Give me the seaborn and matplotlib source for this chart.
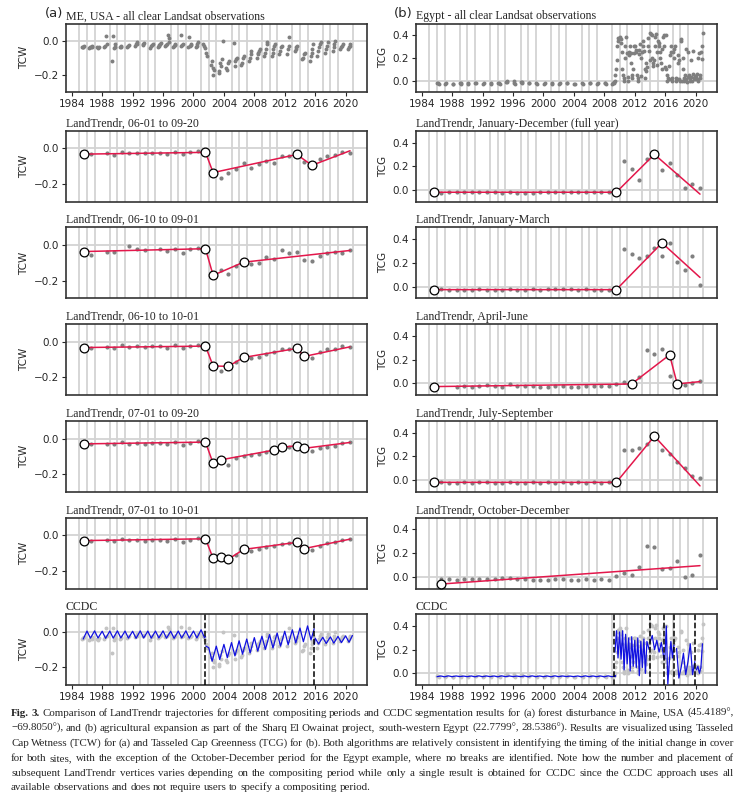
import numpy as np
import pandas as pd
import matplotlib
matplotlib.use('Agg')
import matplotlib.pyplot as plt
from matplotlib.ticker import FixedLocator
import seaborn as sns

sns.set_style('ticks')
plt.rcParams['font.family'] = ['DejaVu Sans']

nan = np.nan
years = np.arange(1985, 2021)          # annual composites
grid_years = np.arange(1985, 2022)     # vertical year lines
tick_years = np.arange(1984, 2021, 4)

# ---------------- all clear observations ----------------
# Maine TCW, one list per year 1985..2020
me_obs = [
    [-0.04, -0.035, -0.035, -0.03],
    [-0.045, -0.04, -0.035, -0.03, -0.04],
    [-0.04, -0.045, -0.035],
    [-0.04, -0.03, 0.025, -0.02],
    [-0.12, 0.025, -0.045, -0.035, -0.02],
    [-0.04, -0.035, -0.03],
    [-0.035, -0.03, -0.025],
    [-0.03, -0.02, -0.01, -0.02],
    [-0.025, -0.02, -0.015],
    [-0.045, -0.03, -0.025, -0.02],
    [-0.035, -0.03, -0.025, -0.02, -0.015],
    [-0.03, -0.025, -0.02, 0.03, 0.015, -0.01],
    [-0.035, -0.03, -0.025, -0.02],
    [-0.03, 0.03, -0.025, -0.02],
    [-0.035, 0.02, -0.03, -0.025, -0.02],
    [-0.04, -0.03, -0.02, -0.01],
    [-0.02, -0.03, -0.045, -0.07, -0.09],
    [-0.14, -0.12, -0.16, -0.2, -0.17],
    [-0.18, -0.19, -0.13, -0.15, -0.11, 0.0],
    [-0.16, -0.17, -0.13, -0.12],
    [-0.015, -0.15, -0.12, -0.11, -0.1],
    [-0.14, -0.13, -0.1, -0.09],
    [-0.12, -0.1, -0.08, -0.06],
    [-0.1, -0.08, -0.07, -0.06, -0.05],
    [-0.09, -0.07, -0.05, -0.02, -0.01],
    [-0.09, -0.07, -0.05, -0.03, -0.02],
    [-0.08, -0.06, -0.04, -0.03],
    [-0.08, -0.05, 0.02, -0.03],
    [-0.06, -0.05, -0.04, -0.03],
    [-0.11, -0.1, -0.08, -0.07],
    [-0.12, -0.09, -0.07, -0.05, -0.02],
    [-0.09, -0.06, -0.04, -0.02, -0.01],
    [-0.07, -0.05, -0.03, -0.01],
    [-0.06, -0.04, -0.02, 0.0],
    [-0.05, -0.04, -0.03, -0.02],
    [-0.05, -0.04, -0.03, -0.02],
]
me_frac = [0.3, 0.42, 0.52, 0.62, 0.72, 0.82]

# Egypt TCG, one list per year 1985..2020
eg_obs = [
    [],
    [-0.02, -0.025, -0.03],
    [-0.03, -0.025],
    [-0.03, -0.028],
    [-0.025, -0.02, -0.03],
    [-0.025, -0.03],
    [-0.02, -0.025],
    [-0.03, -0.025],
    [-0.028, -0.022],
    [-0.025, -0.02, -0.03],
    [-0.01, -0.005, -0.015],
    [-0.005, -0.02, -0.03],
    [-0.01, -0.015, -0.025],
    [-0.02, -0.025],
    [-0.025, -0.03],
    [-0.03, -0.025],
    [-0.025, -0.03],
    [-0.03, -0.022],
    [-0.025, -0.02],
    [-0.03, -0.028],
    [-0.025, -0.03],
    [-0.02, -0.025],
    [-0.03, -0.022],
    [-0.025, -0.02, -0.03],
    [-0.03, -0.02, -0.025, -0.01, 0.0, 0.05, 0.1, 0.18, 0.3, 0.35, 0.37],
    [0.38, 0.36, 0.33, 0.25, 0.1, 0.05, 0.02, 0.0, 0.2, 0.3, 0.38, 0.24],
    [0.0, 0.03, 0.22, 0.25, 0.3, 0.24, 0.15, 0.05, 0.02, 0.1, 0.24, 0.3],
    [0.3, 0.27, 0.25, 0.05, 0.0, 0.02, 0.23, 0.27, 0.32, 0.2, 0.04, 0.25],
    [0.35, 0.3, 0.26, 0.1, 0.02, 0.08, 0.15, 0.12, 0.3, 0.37, 0.26, 0.18],
    [0.42, 0.41, 0.4, 0.2, 0.15, 0.13, 0.18, 0.3, 0.38, 0.41, 0.25, 0.14],
    [0.35, 0.3, 0.33, 0.25, 0.2, 0.15, 0.1, 0.28, 0.38, 0.4, 0.3, 0.12],
    [0.4, 0.1, 0.05, 0.0, 0.02, 0.01, 0.13, 0.22, 0.3, 0.25, 0.02, 0.0],
    [0.25, 0.2, 0.28, 0.3, 0.02, 0.0, 0.01, 0.15, 0.22, 0.18, 0.01, 0.0],
    [0.36, 0.35, 0.0, 0.1, 0.2, 0.02, 0.0, 0.05, 0.28, 0.01, -0.01, 0.03],
    [0.25, 0.05, 0.02, 0.0, 0.18, 0.03, 0.0, 0.26, 0.06, 0.02, 0.01, 0.04],
    [0.03, 0.06, 0.01, 0.0, 0.2, 0.24, 0.02, 0.05, 0.25, 0.19, 0.3, 0.42],
]
eg_frac = [0.06, 0.14, 0.22, 0.3, 0.38, 0.46, 0.54, 0.62, 0.7, 0.78, 0.86, 0.94]

# ---------------- LandTrendr (annual composites 1985..2020) ----------------
lt_off = 0.58   # composite date inside the year

me_titles = ['LandTrendr, 06-01 to 09-20', 'LandTrendr, 06-10 to 09-01',
             'LandTrendr, 06-10 to 10-01', 'LandTrendr, 07-01 to 09-20',
             'LandTrendr, 07-01 to 10-01']
me_lt_obs = [
    [-0.032, -0.030, nan, -0.026, -0.037, -0.020, -0.028, -0.024, -0.028, -0.024, -0.024, -0.030,
     -0.019, -0.034, -0.022, -0.015, -0.022, -0.136, -0.165, -0.136, -0.116, -0.084, -0.108, -0.086,
     -0.069, -0.080, -0.041, -0.045, -0.034, -0.075, -0.095, -0.060, -0.041, -0.039, -0.020, -0.028],
    [-0.036, -0.056, nan, -0.040, -0.037, nan, -0.002, -0.020, -0.028, nan, -0.022, -0.031,
     -0.019, -0.044, -0.022, -0.015, -0.020, -0.170, -0.141, -0.163, -0.115, -0.096, -0.108, -0.100,
     -0.065, -0.080, -0.028, -0.046, -0.039, -0.083, -0.089, -0.059, -0.044, -0.039, -0.046, -0.030],
    [-0.032, -0.032, nan, -0.028, -0.035, -0.020, -0.028, -0.024, -0.030, -0.026, -0.024, -0.032,
     -0.020, -0.037, -0.024, -0.015, -0.024, -0.136, -0.163, -0.138, -0.114, -0.088, -0.093, -0.084,
     -0.071, -0.056, -0.041, -0.041, -0.037, -0.082, -0.090, -0.058, -0.043, -0.041, -0.022, -0.028],
    [-0.030, -0.032, nan, -0.028, -0.033, -0.022, -0.028, -0.024, -0.030, -0.026, -0.024, -0.030,
     -0.020, -0.035, -0.024, -0.016, -0.020, -0.140, -0.120, -0.150, -0.110, -0.100, -0.095, -0.085,
     -0.075, -0.065, -0.050, -0.045, -0.040, -0.060, -0.070, -0.055, -0.045, -0.040, -0.025, -0.022],
    [-0.030, -0.032, nan, -0.028, -0.035, -0.020, -0.028, -0.024, -0.030, -0.026, -0.024, -0.032,
     -0.020, -0.037, -0.024, -0.015, -0.020, -0.130, -0.125, -0.135, -0.110, -0.080, -0.090, -0.075,
     -0.065, -0.060, -0.050, -0.045, -0.040, -0.075, -0.085, -0.060, -0.045, -0.040, -0.025, -0.022],
]
me_lt_vyr = [
    [1985, 2001, 2002, 2013, 2015, 2020],
    [1985, 2001, 2002, 2006, 2020],
    [1985, 2001, 2002, 2004, 2006, 2013, 2014, 2020],
    [1985, 2001, 2002, 2003, 2010, 2011, 2013, 2014, 2020],
    [1985, 2001, 2002, 2003, 2004, 2006, 2013, 2014, 2020],
]
me_lt_vval = [
    [-0.032, -0.022, -0.136, -0.034, -0.095, -0.013],
    [-0.036, -0.020, -0.170, -0.096, -0.030],
    [-0.032, -0.024, -0.136, -0.138, -0.088, -0.037, -0.082, -0.028],
    [-0.030, -0.020, -0.140, -0.120, -0.065, -0.050, -0.040, -0.055, -0.022],
    [-0.030, -0.020, -0.130, -0.125, -0.135, -0.080, -0.040, -0.075, -0.022],
]

eg_titles = ['LandTrendr, January-December (full year)', 'LandTrendr, January-March',
             'LandTrendr, April-June', 'LandTrendr, July-September',
             'LandTrendr, October-December']
eg_lt_obs = [
    [-0.020, -0.025, -0.022, -0.022, -0.020, -0.022, -0.020, -0.022, -0.015, -0.025, -0.022, -0.025,
     -0.028, -0.030, -0.020, -0.018, -0.022, -0.022, -0.020, -0.022, -0.020, -0.020, -0.020, -0.020,
     -0.020, 0.243, 0.180, 0.084, 0.263, 0.300, 0.168, 0.224, 0.129, 0.017, 0.053, 0.017],
    [-0.026, -0.020, -0.025, -0.030, -0.030, -0.025, -0.022, -0.032, -0.025, -0.028, -0.018, -0.028,
     -0.025, -0.020, -0.025, -0.018, -0.022, -0.020, -0.020, -0.025, -0.022, -0.025, -0.025, -0.025,
     -0.026, 0.315, 0.275, 0.238, 0.255, 0.330, 0.258, 0.369, 0.210, 0.136, 0.260, 0.014],
    [-0.028, nan, nan, -0.034, -0.020, -0.028, -0.025, -0.018, -0.025, -0.028, -0.003, -0.024,
     -0.025, -0.025, -0.030, -0.028, -0.025, -0.022, -0.028, -0.030, -0.025, -0.022, -0.020, -0.022,
     -0.006, 0.014, -0.006, 0.056, 0.280, 0.245, 0.290, 0.065, -0.006, -0.014, 0.000, 0.023],
    [-0.020, -0.020, -0.022, -0.025, -0.020, -0.022, -0.020, -0.018, -0.022, -0.025, -0.020, -0.022,
     -0.025, -0.020, -0.022, -0.020, -0.025, -0.020, -0.022, -0.020, -0.022, -0.020, -0.022, -0.020,
     -0.020, 0.250, 0.255, 0.270, 0.300, 0.370, 0.250, 0.220, 0.150, 0.100, 0.030, 0.020],
    [nan, -0.023, -0.020, -0.025, -0.023, -0.023, -0.023, -0.023, -0.017, -0.012, -0.014, -0.017,
     -0.020, -0.025, -0.025, -0.025, -0.023, -0.023, -0.028, -0.025, -0.023, -0.031, -0.020, -0.031,
     0.006, 0.034, 0.017, 0.085, 0.262, 0.250, 0.068, 0.073, 0.130, -0.003, 0.014, 0.186],
]
eg_lt_vyr = [
    [1985, 2009, 2014, 2020],
    [1985, 2009, 2015, 2020],
    [1985, 2011, 2016, 2017, 2020],
    [1985, 2009, 2014, 2020],
    [1986, 2020],
]
eg_lt_vval = [
    [-0.020, -0.020, 0.300, -0.036],
    [-0.026, -0.026, 0.369, 0.077],
    [-0.028, -0.006, 0.240, -0.006, 0.014],
    [-0.020, -0.020, 0.370, -0.050],
    [-0.062, 0.093],
]

# ---------------- CCDC ----------------
# Maine: fitted harmonic value at the summer peak / winter trough of each year
me_cc_breaks = [2001.58, 2015.87]
me_cc_seg = [
    # start, end, years, peak values, trough values
    ((1985.5, -0.040), (2001.58, -0.025), list(range(1986, 2002)),
     [0.005, 0.006, 0.004, 0.005, 0.006, 0.005, 0.004, 0.006, 0.005, 0.005, 0.006, 0.004,
      0.005, 0.006, 0.005, 0.012],
     [-0.035, -0.034, -0.036, -0.035, -0.034, -0.035, -0.036, -0.034, -0.035, -0.034, -0.035, -0.036,
      -0.034, -0.035, -0.034, -0.033]),
    ((2001.62, -0.080), (2015.87, 0.018), list(range(2002, 2016)),
     [-0.088, -0.080, -0.070, -0.060, -0.050, -0.040, -0.032, -0.024, -0.015, -0.006, 0.004, 0.012,
      0.022, 0.034],
     [-0.165, -0.155, -0.145, -0.135, -0.125, -0.118, -0.108, -0.098, -0.090, -0.080, -0.072, -0.062,
      -0.055, -0.045]),
    ((2015.9, -0.070), (2020.9, -0.020), list(range(2016, 2021)),
     [-0.035, -0.030, -0.028, -0.025, -0.022],
     [-0.068, -0.065, -0.063, -0.060, -0.058]),
]
me_cc_phase = (0.0, 0.45)

# Egypt: stable segment then short, noisy segments after the reclamation
eg_cc_breaks = [2009.33, 2013.95, 2015.9, 2017.2, 2019.97]
eg_cc_flat_yr = list(range(1986, 2010))
eg_cc_flat_hi = [-0.022, -0.021, -0.022, -0.023, -0.022, -0.021, -0.022, -0.022, -0.021, -0.022,
                 -0.023, -0.022, -0.021, -0.022, -0.022, -0.021, -0.022, -0.023, -0.022, -0.021,
                 -0.022, -0.022, -0.021, -0.022]
eg_cc_flat_lo = [-0.028, -0.029, -0.028, -0.027, -0.028, -0.029, -0.028, -0.028, -0.029, -0.028,
                 -0.027, -0.028, -0.029, -0.028, -0.028, -0.029, -0.028, -0.027, -0.028, -0.029,
                 -0.028, -0.028, -0.029, -0.028]
eg_cc_seg = [
    ([2009.4, 2009.6, 2009.8, 2010.0, 2010.2, 2010.4, 2010.6, 2010.8, 2011.0, 2011.2, 2011.4, 2011.6,
      2011.8, 2012.0, 2012.2, 2012.4, 2012.6, 2012.8, 2013.0, 2013.2, 2013.4, 2013.6, 2013.9],
     [0.18, 0.36, 0.13, 0.35, 0.12, 0.36, 0.03, 0.33, 0.08, 0.30, 0.02, 0.31,
      0.06, 0.28, 0.05, 0.30, -0.02, 0.27, 0.05, 0.29, 0.0, 0.27, 0.20]),
    ([2014.0, 2014.3, 2014.6, 2014.9, 2015.2, 2015.5, 2015.85],
     [0.26, 0.32, 0.20, 0.28, 0.18, 0.26, 0.12]),
    ([2015.95, 2016.15, 2016.35, 2016.55, 2016.75, 2016.95, 2017.15],
     [0.12, 0.40, -0.09, 0.10, 0.27, 0.13, 0.24]),
    ([2017.5, 2017.8, 2018.1, 2018.4, 2018.7, 2019.0, 2019.3, 2019.6, 2019.9],
     [0.21, -0.04, 0.05, 0.17, -0.01, 0.10, 0.25, -0.01, 0.10]),
    ([2020.1, 2020.3, 2020.5, 2020.7, 2020.9],
     [0.03, 0.06, 0.0, 0.05, 0.25]),
]

caption = [
    "Fig. 3. Comparison of LandTrendr trajectories for different compositing periods and CCDC segmentation results for (a) forest disturbance in Maine, USA (45.4189°,",
    "\u221269.8050°), and (b) agricultural expansion as part of the Sharq El Owainat project, south-western Egypt (22.7799°, 28.5386°). Results are visualized using Tasseled",
    "Cap Wetness (TCW) for (a) and Tasseled Cap Greenness (TCG) for (b). Both algorithms are relatively consistent in identifying the timing of the initial change in cover",
    "for both sites, with the exception of the October-December period for the Egypt example, where no breaks are identified. Note how the number and placement of",
    "subsequent LandTrendr vertices varies depending on the compositing period while only a single result is obtained for CCDC since the CCDC approach uses all",
    "available observations and does not require users to specify a compositing period.",
]

# ---------------- helpers ----------------
def obs_frame(obs, frac):
    rows = []
    for yr, vals in zip(years, obs):
        for f, v in zip(frac, vals):
            rows.append((yr + f, v))
    return pd.DataFrame(rows, columns=['t', 'v'])

me_df = obs_frame(me_obs, me_frac)
eg_df = obs_frame(eg_obs, eg_frac)

GRID = '#d3d3d3'
RED = '#e3174b'
BLUE = '#1010e0'
TFONT = 'Liberation Serif'

def style_ax(ax, ylim, yticks, ylabel, show_x, title):
    ax.set_xlim(1983.2, 2022.8)
    ax.set_ylim(*ylim)
    ax.set_yticks(yticks)
    ax.set_xticks(tick_years)
    ax.xaxis.set_minor_locator(FixedLocator(grid_years))
    ax.grid(which='minor', axis='x', color=GRID, lw=1.3)
    ax.axhline(0, color=GRID, lw=1.3, zorder=0.5)
    ax.set_axisbelow(True)
    ax.tick_params(which='minor', length=0)
    ax.tick_params(axis='both', labelsize=7.5, length=3, width=0.8, pad=2)
    if not show_x:
        ax.tick_params(axis='x', length=0, labelbottom=False)
    ax.set_xlabel('')
    ax.set_ylabel(ylabel, fontsize=7.5, labelpad=3)
    for s in ax.spines.values():
        s.set_color('#333333')
        s.set_linewidth(1.2)
    ax.set_title(title, loc='left', fontfamily=TFONT, fontsize=8.6, pad=3)

def draw_lt(ax, obs, vyr, vval):
    sns.scatterplot(x=years + lt_off, y=obs, color='#808080', s=9, linewidth=0, ax=ax, zorder=2)
    vx = np.array(vyr) + lt_off
    sns.lineplot(x=vx, y=vval, color=RED, lw=1.1, sort=False, estimator=None, ax=ax, zorder=3)
    sns.scatterplot(x=vx[:-1], y=vval[:-1], s=40, color='white', edgecolor='black',
                    linewidth=0.9, ax=ax, zorder=4)

# ---------------- figure ----------------
W, H = 746, 794
fig = plt.figure(figsize=(W / 100, H / 100), dpi=100)
row_top = [23.5, 130.7, 227.4, 324.1, 420.8, 517.5, 614.2]
row_h = [68.5, 71, 71, 71, 71, 71, 71]
col_left = [65.7, 415.7]
col_w = 301.2

axes = []
for r in range(7):
    row = []
    for c in range(2):
        rect = [col_left[c] / W, 1 - (row_top[r] + row_h[r]) / H, col_w / W, row_h[r] / H]
        row.append(fig.add_axes(rect))
    axes.append(row)

ME_YL, ME_YT = (-0.3, 0.1), [-0.2, 0.0]
EG_YL, EG_YT = (-0.1, 0.5), [0.0, 0.2, 0.4]

# row 0: all clear observations
ax = axes[0][0]
sns.scatterplot(data=me_df, x='t', y='v', color='#7f7f7f', s=8, linewidth=0, ax=ax, zorder=2)
style_ax(ax, ME_YL, ME_YT, 'TCW', True, 'ME, USA - all clear Landsat observations')
ax = axes[0][1]
sns.scatterplot(data=eg_df, x='t', y='v', color='#7f7f7f', s=8, linewidth=0, ax=ax, zorder=2)
style_ax(ax, EG_YL, EG_YT, 'TCG', True, 'Egypt - all clear Landsat observations')
fig.text(63 / W, 1 - 13 / H, '(a)', ha='right', va='center', fontsize=9.5)
fig.text(413 / W, 1 - 13 / H, '(b)', ha='right', va='center', fontsize=9.5)

# rows 1-5: LandTrendr
for i in range(5):
    ax = axes[i + 1][0]
    draw_lt(ax, me_lt_obs[i], me_lt_vyr[i], me_lt_vval[i])
    style_ax(ax, ME_YL, ME_YT, 'TCW', False, me_titles[i])
    ax = axes[i + 1][1]
    draw_lt(ax, eg_lt_obs[i], eg_lt_vyr[i], eg_lt_vval[i])
    style_ax(ax, EG_YL, EG_YT, 'TCG', False, eg_titles[i])

# row 6: CCDC
ax = axes[6][0]
sns.scatterplot(data=me_df, x='t', y='v', color='#c4c4c4', s=8, linewidth=0, ax=ax, zorder=2)
for start, end, yrs, pk, tr in me_cc_seg:
    xs, ys = [start[0]], [start[1]]
    for yr, p, t in zip(yrs, pk, tr):
        xs += [yr + me_cc_phase[0], yr + me_cc_phase[1]]
        ys += [p, t]
    xs.append(end[0]); ys.append(end[1])
    sns.lineplot(x=xs, y=ys, color=BLUE, lw=0.9, sort=False, estimator=None, ax=ax, zorder=3)
for b in me_cc_breaks:
    ax.axvline(b, color='black', ls='--', lw=1.1, zorder=4)
style_ax(ax, ME_YL, ME_YT, 'TCW', True, 'CCDC')

ax = axes[6][1]
sns.scatterplot(data=eg_df, x='t', y='v', color='#c4c4c4', s=8, linewidth=0, ax=ax, zorder=2)
xs, ys = [], []
for yr, hi, lo in zip(eg_cc_flat_yr, eg_cc_flat_hi, eg_cc_flat_lo):
    xs += [yr + 0.0, yr + 0.5]
    ys += [lo, hi]
xs.append(eg_cc_breaks[0]); ys.append(-0.025)
sns.lineplot(x=xs, y=ys, color=BLUE, lw=0.9, sort=False, estimator=None, ax=ax, zorder=3)
for sx, sy in eg_cc_seg:
    sns.lineplot(x=sx, y=sy, color=BLUE, lw=0.9, sort=False, estimator=None, ax=ax, zorder=3)
for b in eg_cc_breaks:
    ax.axvline(b, color='black', ls='--', lw=1.1, zorder=4)
style_ax(ax, EG_YL, EG_YT, 'TCG', True, 'CCDC')

# ---------------- caption (justified) ----------------
renderer = fig.canvas.get_renderer()
cap_base = [716, 731, 746, 761, 776, 790]
x0, x1 = 11, 734
for i, line in enumerate(caption):
    words = line.split(' ')
    arts = []
    for j, wd in enumerate(words):
        bold = (i == 0 and j < 2)
        arts.append(fig.text(0, 0, wd, fontsize=7.9, fontfamily=TFONT,
                             fontweight='bold' if bold else 'normal', va='baseline', ha='left'))
    widths = [t.get_window_extent(renderer).width for t in arts]
    if i < len(caption) - 1:
        gap = (x1 - x0 - sum(widths)) / (len(words) - 1)
    else:
        gap = 2.6
    x = x0
    for t, wd in zip(arts, widths):
        t.set_position((x / W, 1 - cap_base[i] / H))
        x += wd + gap

fig.savefig('out.png', dpi=100)
